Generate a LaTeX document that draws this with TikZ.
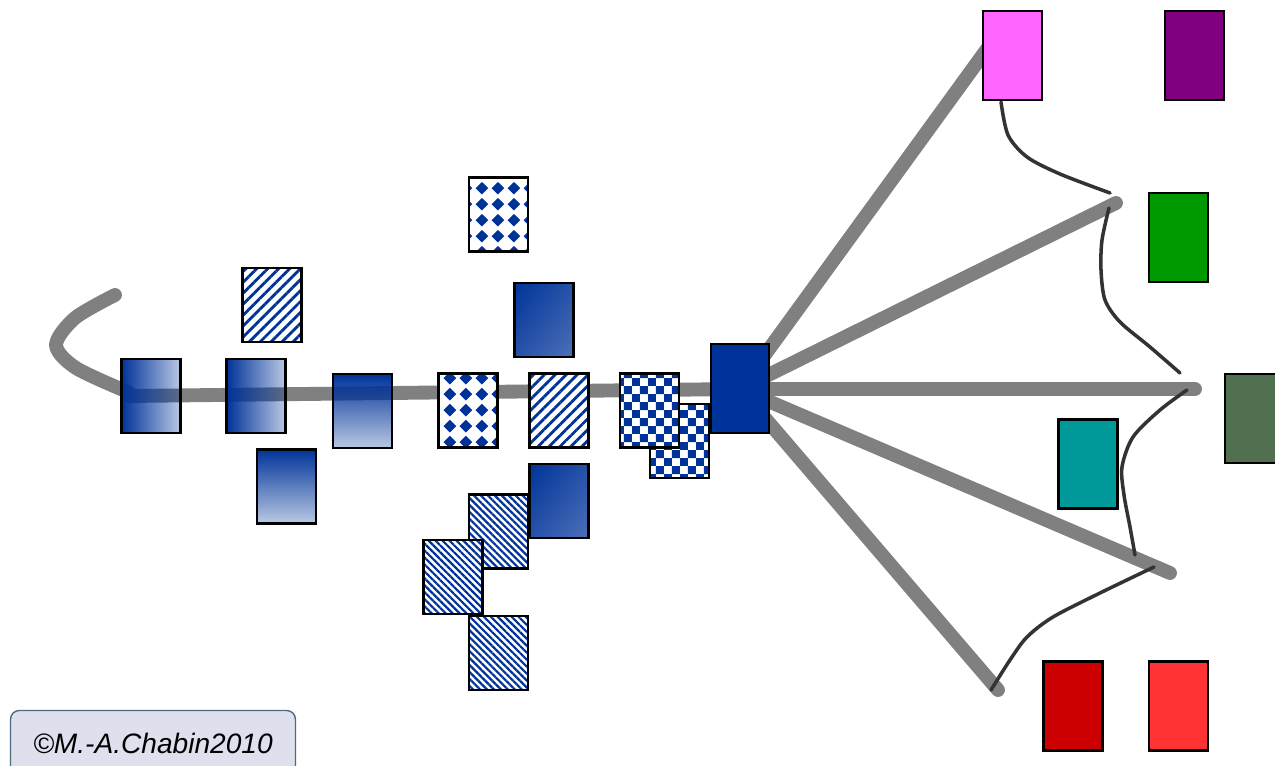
\documentclass[tikz,border=0pt]{standalone}
\usepackage{fontspec}
\setmainfont{Liberation Sans}
\usetikzlibrary{patterns,patterns.meta,fadings,shadings}
\definecolor{ptblue}{RGB}{0,51,153}
\definecolor{raygray}{RGB}{128,128,128}
\definecolor{tiegray}{RGB}{51,51,51}
\definecolor{pinkbx}{RGB}{255,102,255}
\definecolor{purplebx}{RGB}{128,0,128}
\definecolor{greenbx}{RGB}{0,153,0}
\definecolor{mossbx}{RGB}{80,112,80}
\definecolor{tealbx}{RGB}{0,153,153}
\definecolor{dkredbx}{RGB}{204,0,0}
\definecolor{redbx}{RGB}{255,51,51}
\definecolor{crfill}{RGB}{223,224,238}
\definecolor{crline}{RGB}{77,106,130}
\tikzfading[name=fadeR,left color=transparent!0,right color=transparent!73]
\tikzfading[name=fadeD,top color=transparent!0,bottom color=transparent!73]
\pgfdeclarepatternformonly{dmgrid}{\pgfpointorigin}{\pgfqpoint{9pt}{9pt}}{\pgfqpoint{9pt}{9pt}}{%
  \pgfpathmoveto{\pgfqpoint{4.5pt}{0.9pt}}\pgfpathlineto{\pgfqpoint{8.1pt}{4.5pt}}%
  \pgfpathlineto{\pgfqpoint{4.5pt}{8.1pt}}\pgfpathlineto{\pgfqpoint{0.9pt}{4.5pt}}\pgfpathclose
  \pgfusepath{fill}}
\pgfdeclarepatternformonly{ckgrid}{\pgfpointorigin}{\pgfqpoint{9pt}{9pt}}{\pgfqpoint{9pt}{9pt}}{%
  \pgfpathrectangle{\pgfpointorigin}{\pgfqpoint{4.5pt}{4.5pt}}%
  \pgfpathrectangle{\pgfqpoint{4.5pt}{4.5pt}}{\pgfqpoint{4.5pt}{4.5pt}}%
  \pgfusepath{fill}}
\tikzset{
  ray/.style={raygray,line width=7.9pt,line cap=round,line join=round},
  tie/.style={tiegray,line width=2pt,line cap=round},
  blk/.style={draw=black,line width=1.3pt,inner sep=0pt,minimum width=1.18cm,minimum height=1.48cm},
  tall/.style={blk,minimum height=1.78cm},
  hgbox/.style={blk,preaction={fill=ptblue,path fading=fadeR}},
  vgbox/.style={blk,preaction={fill=ptblue,path fading=fadeD}},
  dgbox/.style={blk,upper left=ptblue,lower right=ptblue!70!white,upper right=ptblue!85!white,lower left=ptblue!85!white},
  dmbox/.style={blk,preaction={fill=white},pattern=dmgrid,pattern color=ptblue},
  ckbox/.style={blk,preaction={fill=white},pattern=ckgrid,pattern color=ptblue},
  stbox/.style={blk,preaction={fill=white},pattern={Lines[angle=45,distance=4.4pt,line width=1.6pt]},pattern color=ptblue},
  fsbox/.style={blk,preaction={fill=white},pattern={Lines[angle=-45,distance=2.8pt,line width=1.25pt]},pattern color=ptblue},
  cpr/.style={draw=crline,fill=crfill,line width=0.8pt,rounded corners=5pt,inner sep=0pt,
    minimum width=5.7cm,minimum height=1.3cm,font=\fontsize{16}{19}\selectfont\itshape}
}
\begin{document}
\begin{tikzpicture}[x=0.02cm,y=-0.02cm]
\useasboundingbox (0,0) rectangle (1275,766);
% spine and fan
\coordinate (hub) at (740,389);
\coordinate (e1) at (995,38); \coordinate (e2) at (1116,203); \coordinate (e3) at (1195,389);
\coordinate (e4) at (1170,573); \coordinate (e5) at (998,690);
\draw[ray] plot[smooth] coordinates {(115,295) (75,318) (56,345) (76,368) (128,392)};
\draw[ray] (130,396) -- (hub);
\foreach \i in {1,...,5} \draw[ray] (hub) -- (e\i);
% links between the ends
\draw[tie] plot[smooth] coordinates {(1001,102) (1008,135) (1027,157) (1060,174) (1110,193)};
\draw[tie] plot[smooth] coordinates {(1109,208) (1102,240) (1101,270) (1105,300) (1120,322) (1150,347) (1180,373)};
\draw[tie] plot[smooth] coordinates {(1187,390) (1160,410) (1133,437) (1122,467) (1124,495) (1130,527) (1135,555)};
\draw[tie] plot[smooth] coordinates {(1154,567) (1100,593) (1053,617) (1027,637) (1010,660) (991,690)};
% blue boxes
\node[hgbox] (ga) at (151,396) {}; \node[hgbox] (gb) at (256,396) {};
\node[vgbox] (gc) at (362.5,411) {}; \node[vgbox] (gd) at (286.5,486.5) {};
\node[stbox] (sa) at (272,305) {};
\node[dmbox] (da) at (498.5,214.5) {}; \node[dmbox] (db) at (468,410.5) {};
\node[dgbox] (ha) at (544,320) {};
\node[stbox] (sb) at (559,410.5) {};
\node[ckbox] (cb) at (679.5,441) {}; \node[ckbox] (ca) at (649.5,410.5) {};
\node[blk,fill=ptblue,minimum width=1.16cm,minimum height=1.78cm] (hb) at (740,388.5) {};
\node[fsbox] (fa) at (498.5,531.5) {}; \node[dgbox] (hc) at (559,501) {};
\node[fsbox] (fb) at (453,577) {}; \node[fsbox] (fc) at (498.5,653) {};
% coloured boxes
\node[tall,fill=pinkbx] (pk) at (1012.5,55.5) {}; \node[tall,fill=purplebx] (pu) at (1194.5,55.5) {};
\node[tall,fill=greenbx] (gr) at (1178.5,237.5) {}; \node[tall,fill=mossbx] (mo) at (1254.5,418.5) {};
\node[tall,fill=tealbx] (te) at (1088,464) {};
\node[tall,fill=dkredbx] (dr) at (1073,706) {}; \node[tall,fill=redbx] (rd) at (1178.5,706) {};
\node[cpr] (cr) at (153,743) {©M.-A.Chabin2010};
\end{tikzpicture}
\end{document}
